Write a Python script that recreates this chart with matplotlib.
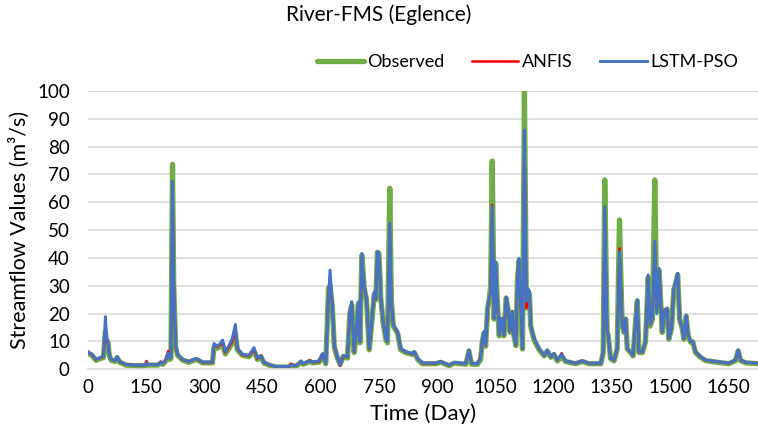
import matplotlib
matplotlib.use('Agg')
import matplotlib.pyplot as plt

plt.rcParams['font.family'] = ['Lato', 'DejaVu Sans']

# values (day, observed, ANFIS, LSTM-PSO)
days = [0, 10, 21, 33, 40, 45, 48, 51, 55, 60, 70, 75, 82, 98, 120, 148, 151, 155, 180, 188,
        193, 201, 207, 211, 214, 218, 221, 226, 231, 245, 260, 278, 285, 295, 321, 325, 332, 339,
        347, 354, 364, 372, 380, 385, 398, 415, 428, 437, 446, 454, 470, 484, 519, 523, 536, 549,
        555, 562, 572, 579, 596, 605, 613, 620, 624, 630, 635, 643, 650, 658, 669, 675, 680, 686,
        692, 697, 701, 706, 712, 718, 725, 732, 738, 742, 746, 750, 755, 761, 768, 772, 778, 782,
        787, 798, 806, 819, 836, 841, 850, 862, 896, 909, 931, 944, 974, 982, 989, 1004, 1012,
        1017, 1021, 1025, 1030, 1034, 1038, 1042, 1047, 1051, 1055, 1060, 1066, 1072, 1078, 1084,
        1088, 1094, 1098, 1103, 1107, 1111, 1115, 1120, 1125, 1130, 1134, 1138, 1141, 1150, 1163,
        1176, 1184, 1193, 1201, 1210, 1221, 1231, 1257, 1274, 1291, 1322, 1328, 1332, 1338, 1341,
        1347, 1356, 1364, 1370, 1377, 1382, 1386, 1390, 1399, 1405, 1412, 1416, 1420, 1429, 1437,
        1444, 1449, 1455, 1461, 1466, 1472, 1476, 1480, 1487, 1493, 1497, 1504, 1510, 1515, 1520,
        1525, 1532, 1536, 1542, 1547, 1553, 1559, 1566, 1579, 1592, 1618, 1652, 1669, 1676, 1682,
        1695, 1727]

observed = [5.8, 5.0, 3.2, 3.9, 4.2, 13.5, 9.0, 10.0, 5.0, 3.2, 2.8, 4.2, 2.5, 1.5, 1.3, 1.3, 2.0,
            1.5, 1.5, 2.2, 1.8, 3.0, 5.0, 3.5, 4.0, 73.6, 31.0, 8.0, 5.0, 3.2, 2.5, 3.5, 3.2, 2.3,
            2.3, 8.0, 7.5, 8.0, 9.0, 5.5, 7.5, 9.5, 13.0, 7.0, 5.0, 4.5, 6.5, 3.5, 4.5, 2.2, 1.3,
            0.8, 0.8, 1.4, 1.0, 2.5, 1.8, 2.2, 2.8, 2.3, 2.6, 5.0, 2.0, 29.0, 30.0, 22.0, 8.0, 4.0,
            1.8, 4.6, 4.0, 20.0, 23.0, 6.0, 13.0, 23.5, 9.5, 41.0, 29.0, 25.0, 7.0, 17.5, 27.0,
            25.0, 42.0, 41.5, 25.0, 16.5, 10.5, 9.5, 65.0, 25.0, 15.5, 13.0, 7.0, 6.0, 5.3, 6.0,
            3.5, 2.0, 2.0, 2.5, 1.3, 2.2, 1.8, 6.5, 1.8, 1.8, 3.5, 10.5, 13.0, 8.3, 21.5, 25.0,
            30.0, 74.8, 18.0, 38.0, 25.0, 12.0, 18.0, 12.0, 25.5, 20.5, 13.3, 20.5, 12.0, 8.5, 32.0,
            39.0, 25.0, 7.3, 100.0, 22.0, 28.0, 27.0, 15.5, 10.5, 7.0, 4.8, 6.5, 4.3, 5.3, 3.0, 4.5,
            2.8, 2.0, 2.8, 2.0, 2.0, 6.0, 68.0, 13.5, 12.0, 3.8, 3.0, 7.2, 53.6, 15.5, 13.2, 18.0,
            7.3, 6.0, 4.8, 18.0, 24.5, 6.0, 6.0, 9.8, 33.0, 15.5, 18.0, 68.0, 21.0, 35.5, 25.0,
            13.2, 21.0, 21.5, 10.8, 14.5, 28.5, 31.0, 34.0, 18.0, 14.5, 10.8, 19.0, 12.0, 9.8, 9.8,
            6.0, 4.3, 3.1, 2.6, 2.0, 3.1, 6.6, 3.1, 2.3, 2.0]

anfis = [6.2, 5.2, 3.5, 4.1, 4.6, 14.0, 10.0, 10.0, 5.5, 3.5, 3.0, 4.3, 2.7, 1.8, 1.5, 1.5, 3.0,
         1.7, 1.6, 2.8, 2.0, 3.5, 6.6, 4.0, 4.2, 64.0, 33.0, 8.5, 5.2, 3.4, 2.8, 3.8, 3.3, 2.5,
         2.5, 8.5, 8.0, 8.6, 9.5, 6.0, 8.0, 10.0, 13.5, 7.3, 5.2, 4.8, 7.0, 3.8, 5.0, 2.4, 1.5,
         1.0, 1.0, 2.0, 1.2, 2.8, 2.0, 2.5, 3.3, 2.5, 2.8, 5.3, 2.2, 27.0, 33.0, 23.0, 8.5, 4.3,
         1.2, 4.8, 4.3, 20.5, 24.0, 6.2, 13.2, 24.0, 9.8, 40.0, 30.0, 25.5, 7.3, 18.0, 27.5,
         25.2, 41.0, 41.0, 25.5, 17.0, 11.0, 10.0, 50.0, 24.0, 16.0, 13.2, 7.3, 6.2, 5.5, 6.2,
         3.8, 2.2, 2.1, 2.8, 1.5, 2.4, 2.0, 6.8, 2.0, 2.0, 4.5, 10.8, 13.2, 8.5, 21.8, 25.2,
         28.0, 59.0, 18.3, 37.0, 25.5, 12.3, 18.2, 12.2, 25.8, 20.6, 13.4, 20.6, 12.2, 8.6, 32.5,
         39.5, 25.3, 7.4, 84.0, 22.0, 27.5, 27.5, 16.0, 11.0, 7.3, 5.0, 6.8, 4.5, 5.5, 3.2, 5.8,
         3.0, 2.2, 3.0, 2.2, 2.2, 6.2, 58.0, 13.8, 12.2, 4.0, 3.2, 7.4, 43.4, 16.0, 13.4, 18.2,
         7.4, 6.2, 5.0, 18.2, 24.8, 6.2, 6.2, 10.0, 33.5, 16.0, 18.2, 45.0, 22.0, 36.0, 25.3,
         13.4, 21.2, 21.8, 11.0, 14.6, 28.8, 31.3, 34.3, 18.2, 14.6, 11.0, 19.3, 12.2, 10.0, 10.0,
         6.2, 4.5, 3.3, 2.8, 2.2, 3.3, 6.8, 3.3, 2.5, 2.2]

lstm_pso = [6.4, 5.4, 3.6, 4.3, 4.8, 18.9, 11.0, 10.5, 5.5, 3.5, 3.1, 4.5, 2.8, 1.8, 1.5, 1.5, 2.4,
            1.7, 1.7, 2.5, 2.0, 3.5, 5.8, 4.0, 4.3, 67.6, 31.5, 9.0, 5.3, 3.5, 2.8, 3.9, 3.5, 2.6,
            2.6, 9.3, 8.3, 9.0, 10.5, 6.3, 8.7, 11.0, 16.1, 7.5, 5.4, 5.0, 7.8, 4.0, 4.8, 2.5, 1.6,
            1.0, 1.0, 1.5, 1.2, 3.0, 2.0, 2.5, 3.0, 2.6, 3.0, 5.7, 2.2, 25.0, 35.6, 23.0, 8.7, 4.5,
            1.6, 5.0, 4.5, 20.7, 24.3, 6.3, 13.5, 24.3, 10.0, 41.6, 30.0, 25.5, 7.5, 18.3, 27.8,
            25.5, 42.2, 42.0, 25.5, 17.0, 11.0, 10.0, 52.4, 24.0, 16.0, 13.5, 7.5, 6.3, 5.7, 6.3,
            3.8, 2.3, 2.2, 2.8, 1.5, 2.5, 2.0, 7.0, 2.0, 2.0, 4.0, 11.0, 13.5, 8.7, 22.0, 25.5,
            27.0, 58.5, 18.3, 38.6, 25.5, 12.3, 18.3, 12.3, 26.0, 20.7, 13.5, 20.7, 12.3, 8.7, 32.7,
            39.8, 25.5, 7.5, 85.9, 24.3, 29.0, 28.0, 16.0, 11.0, 7.5, 5.0, 7.0, 4.5, 5.7, 3.3, 5.4,
            3.0, 2.2, 3.0, 2.2, 2.2, 6.3, 58.4, 14.0, 12.3, 4.0, 3.3, 7.5, 42.2, 16.0, 13.5, 18.3,
            7.5, 6.3, 5.0, 18.3, 25.0, 6.3, 6.3, 10.0, 33.9, 16.0, 18.3, 46.0, 20.0, 36.2, 25.5,
            13.5, 21.3, 22.0, 11.0, 14.7, 29.0, 31.5, 34.5, 18.3, 14.7, 11.0, 19.5, 12.3, 10.0, 10.0,
            6.3, 4.5, 3.3, 2.8, 2.2, 3.3, 7.0, 3.3, 2.5, 2.2]

fig = plt.figure(figsize=(7.58, 4.42), dpi=100)
ax = fig.add_axes([0.116, 0.1645, 0.884, 0.63])

ax.plot(days, observed, color='#70ad47', lw=3.8, label='Observed',
        solid_joinstyle='round', solid_capstyle='round', zorder=2)
ax.plot(days, anfis, color='#ff0000', lw=1.8, label='ANFIS', zorder=3)
ax.plot(days, lstm_pso, color='#4472c4', lw=2.1, label='LSTM-PSO', zorder=4)

ax.set_xlim(0, 1727)
ax.set_ylim(0, 100)
ax.set_xticks(range(0, 1651, 150))
ax.set_yticks(range(0, 101, 10))
ax.grid(axis='y', color='#d9d9d9', lw=1.2)
ax.set_axisbelow(True)
for s in ['top', 'right', 'left']:
    ax.spines[s].set_visible(False)
ax.spines['bottom'].set_color('#d9d9d9')
ax.spines['bottom'].set_linewidth(1.2)
ax.tick_params(length=0, labelsize=13.5, colors='#000000')
ax.tick_params(axis='y', pad=13)
ax.tick_params(axis='x', pad=7)

ax.set_xlabel('Time (Day)', fontsize=16, labelpad=5)
ax.set_ylabel('Streamflow Values (m³/s)', fontsize=15.5, labelpad=5)
fig.suptitle('River-FMS (Eglence)', fontsize=15, x=0.5, y=0.99, va='top')

fig.legend(loc='center', bbox_to_anchor=(0.696, 0.86), ncol=3, frameon=False,
           fontsize=13, handlelength=2.6, handletextpad=0.2, columnspacing=1.5)

fig.savefig('out.png', dpi=100)
